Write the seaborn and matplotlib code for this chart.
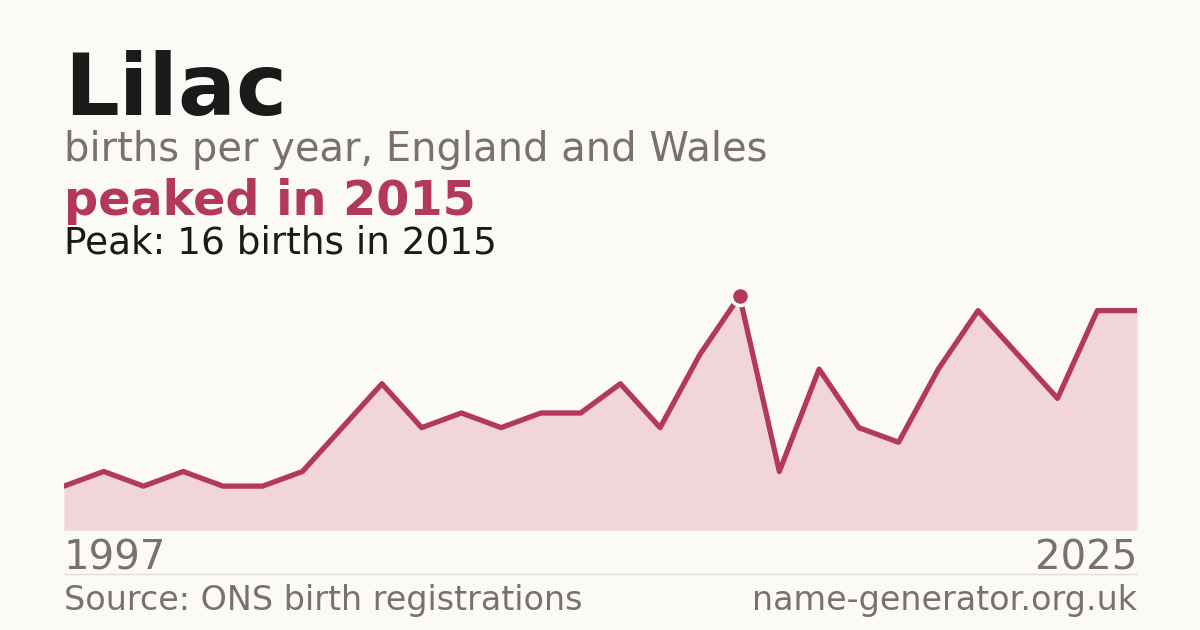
import numpy as np
import pandas as pd
import matplotlib.pyplot as plt
import seaborn as sns

# births per year (one year below the ONS threshold is missing, so 28 points)
years = [1997, 1998, 1999, 2000, 2001, 2002, 2003, 2004, 2005, 2006, 2007, 2008, 2009, 2010,
         2011, 2012, 2013, 2015, 2016, 2017, 2018, 2019, 2020, 2021, 2022, 2023, 2024, 2025]
births = [3, 4, 3, 4, 3, 3, 4, 7, 10, 7, 8, 7, 8, 8,
          10, 7, 12, 16, 4, 11, 7, 6, 11, 15, 12, 9, 15, 15]

name = "Lilac"
subtitle = "births per year, England and Wales"
headline = "peaked in 2015"
peak_text = "Peak: 16 births in 2015"
first_label = "1997"
last_label = "2025"
source = "Source: ONS birth registrations"
site = "name-generator.org.uk"

bg = "#fbfaf5"
accent = "#b3395a"
fill = "#f2d5da"
grey = "#77726b"

df = pd.DataFrame({"idx": np.arange(len(births)), "year": years, "births": births})

sns.set_theme(style="white")
plt.rcParams["font.family"] = ["DejaVu Sans"]

W, H = 1200, 630
fig = plt.figure(figsize=(12, 6.3), dpi=100, facecolor=bg)

# axes in pixel terms: x 64..1137, y 0 at 530px, 16 at 296px
ax = fig.add_axes([64 / W, (H - 530) / H, (1137 - 64) / W, (530 - 296) / H])
ax.set_facecolor(bg)
ax.fill_between(df["idx"], df["births"], 0, color=fill, linewidth=0)
sns.lineplot(data=df, x="idx", y="births", color=accent, linewidth=3.8, ax=ax)
pk = df["births"].idxmax()
ax.plot(df["idx"][pk], df["births"][pk], marker="o", markersize=13, color=accent,
        markeredgecolor=bg, markeredgewidth=2.5, clip_on=False, zorder=5)
ax.axhline(0, color="#e2ddd6", linewidth=1)
ax.set_xlim(0, len(births) - 1)
ax.set_ylim(0, 16)
ax.set_axis_off()


def px(x, y):
    return x / W, 1 - y / H


fig.text(*px(64, 115), name, fontsize=62, fontweight="bold", color="#1a1a1a", va="baseline")
fig.text(*px(64, 161), subtitle, fontsize=28.8, color=grey, va="baseline")
fig.text(*px(64, 215), headline, fontsize=34.4, fontweight="bold", color=accent, va="baseline")
fig.text(*px(64, 254), peak_text, fontsize=26.9, color="#1a1a1a", va="baseline")
fig.text(*px(64, 570), first_label, fontsize=29, color=grey, va="baseline")
fig.text(*px(1137, 570), last_label, fontsize=29, color=grey, va="baseline", ha="right")
fig.add_artist(plt.Line2D([64 / W, 1137 / W], [1 - 574 / H, 1 - 574 / H], color="#e2ddd6", linewidth=1))
fig.text(*px(64, 610), source, fontsize=24, color=grey, va="baseline")
fig.text(*px(1137, 610), site, fontsize=24, color=grey, va="baseline", ha="right")

fig.savefig("out.png", dpi=100, facecolor=bg)
